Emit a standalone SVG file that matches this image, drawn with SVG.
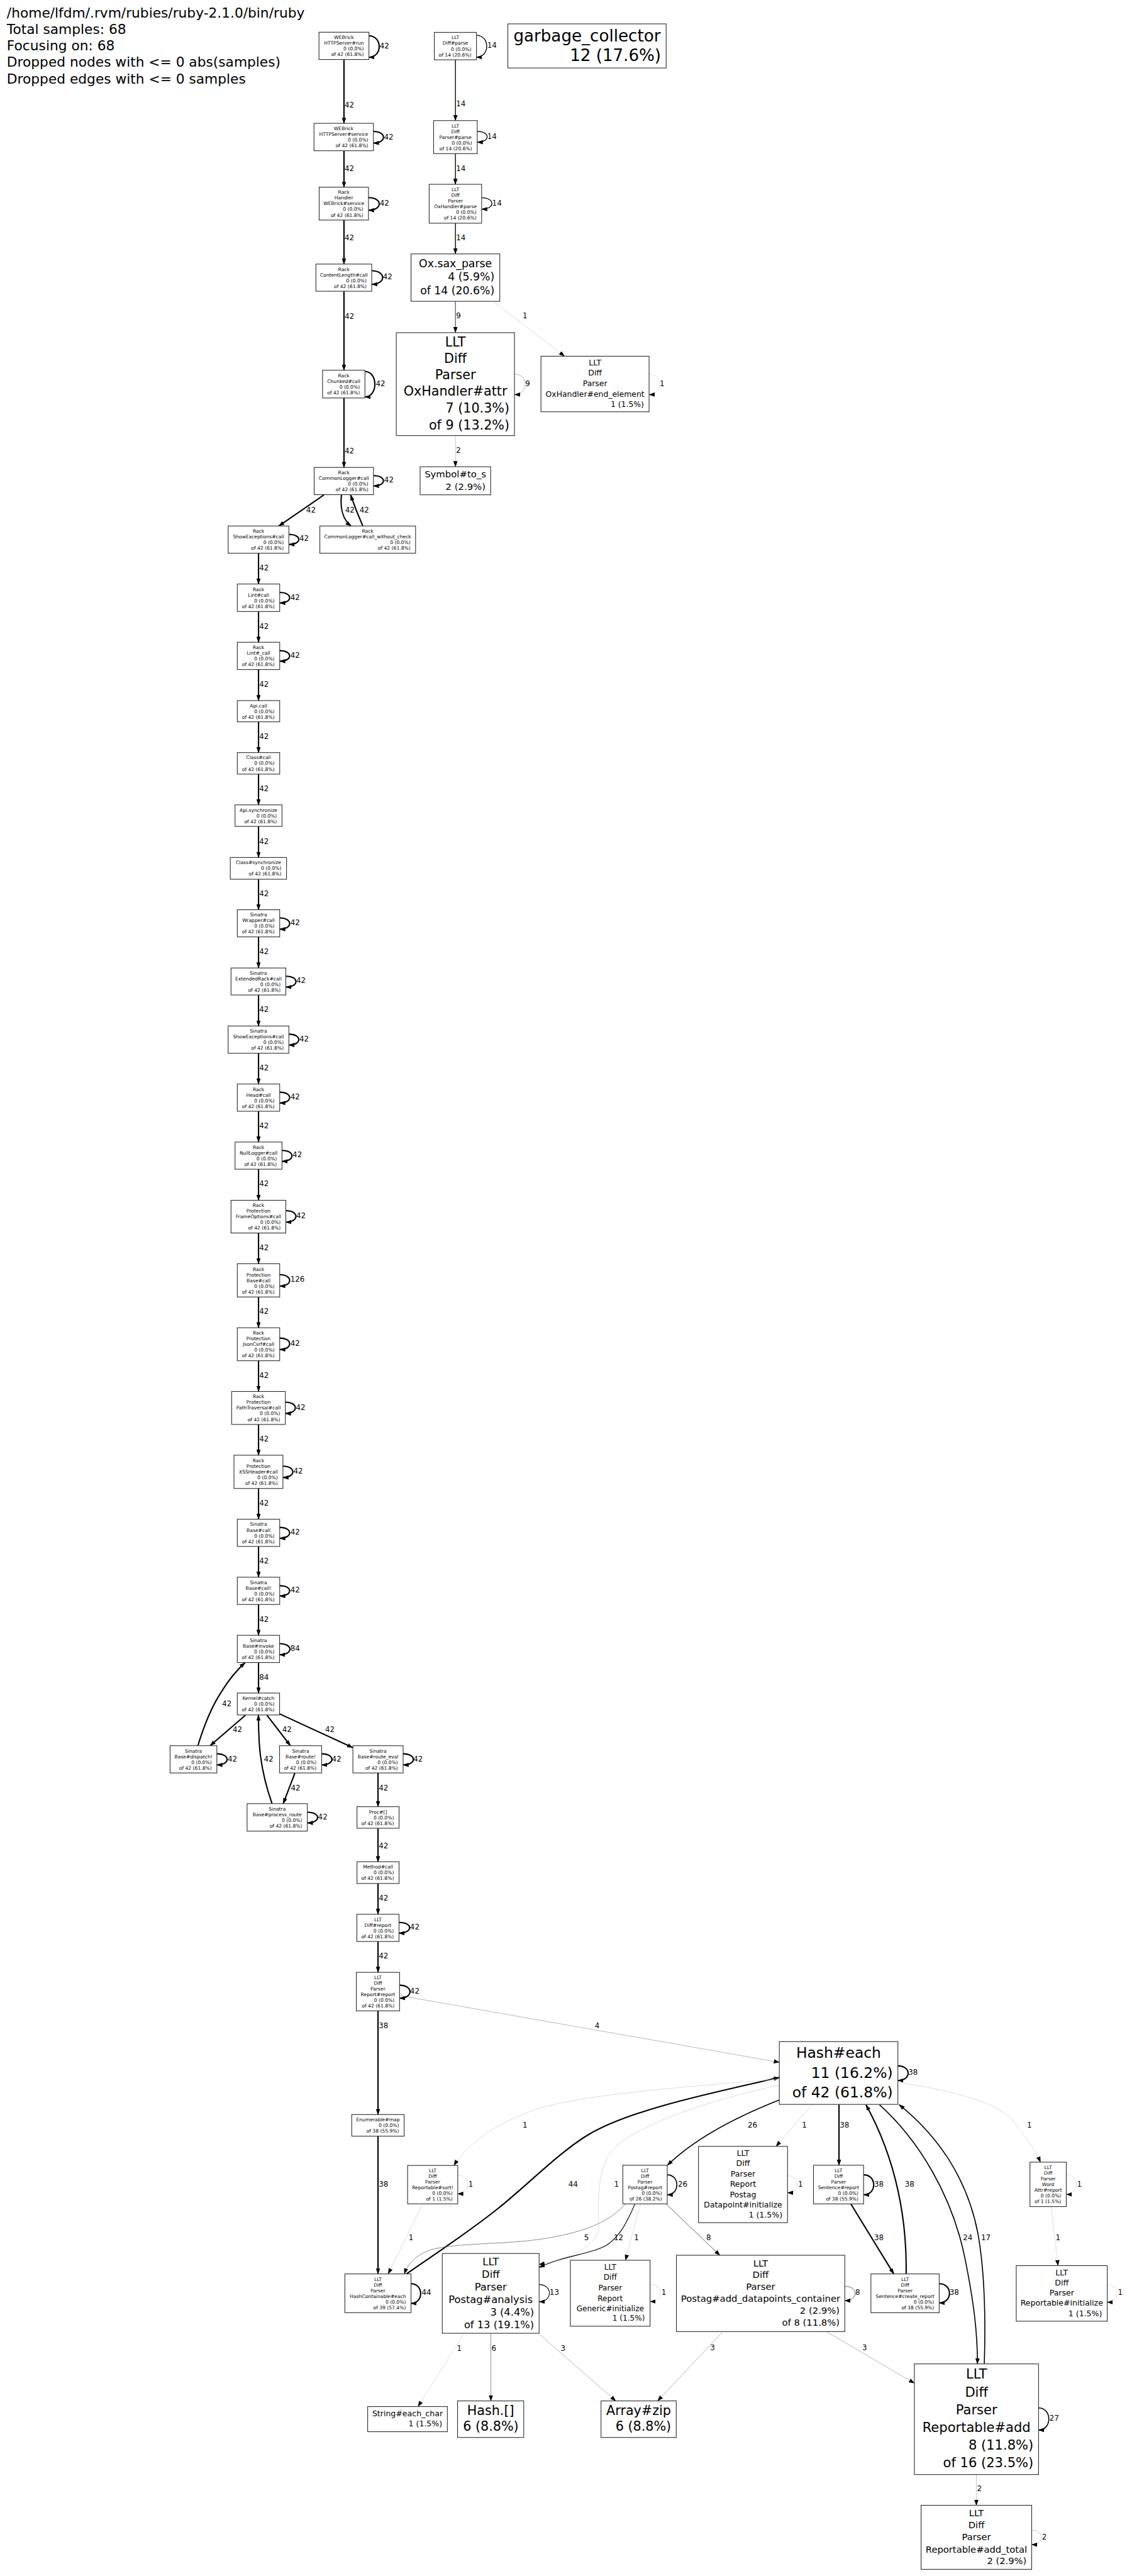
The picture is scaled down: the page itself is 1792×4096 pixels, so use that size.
<svg xmlns="http://www.w3.org/2000/svg" width="1792" height="4096" viewBox="0 0 1792 4096">
<defs>
<style>
text{font-family:"DejaVu Sans",Verdana,sans-serif;fill:#000}
.n rect{fill:#fff;stroke:#2a2a2a;stroke-width:1.6}
.s{font-size:11.2px}
.c{text-anchor:middle}
.r{text-anchor:end}
.h{font-size:32px}
#edges path{fill:none;marker-end:url(#a)}
#edges text{font-size:17.5px}
.w42{stroke:#000;stroke-width:3.1}
.w26{stroke:#000;stroke-width:2.4}
.w14{stroke:#000;stroke-width:2}
.w12{stroke:#000;stroke-width:1.6}
.w9{stroke:#111;stroke-width:1.3}
.w8{stroke:#333;stroke-width:1.1}
.w5{stroke:#555;stroke-width:1}
.w3{stroke:#888;stroke-width:0.9}
.w2{stroke:#a5a5a5;stroke-width:0.9}
.w1{stroke:#c8c8c8;stroke-width:0.9}
.f178{font-size:17.8px}.f183{font-size:18.3px}.f185{font-size:18.5px}.f217{font-size:21.7px}.f218{font-size:21.8px}.f219{font-size:21.9px}
.f24{font-size:24px}.f255{font-size:25.5px}.f305{font-size:30.5px}.f31{font-size:31px}.f345{font-size:34.5px}.f385{font-size:38.5px}
</style>
<marker id="a" markerUnits="userSpaceOnUse" viewBox="0 0 14 10" markerWidth="14" markerHeight="10" refX="13" refY="5" orient="auto"><path d="M0,0L14,5L0,10z" fill="#000"/></marker>
</defs>
<rect width="1792" height="4096" fill="#fff"/>
<g transform="scale(0.679)">
<g id="header" class="h">
<text class="h" x="16" y="40.8">/home/lfdm/.rvm/rubies/ruby-2.1.0/bin/ruby</text>
<text class="h" x="16" y="80.1">Total samples: 68</text>
<text class="h" x="16" y="117.3">Focusing on: 68</text>
<text class="h" x="16" y="156.6">Dropped nodes with &lt;= 0 abs(samples)</text>
<text class="h" x="16" y="195.4">Dropped edges with &lt;= 0 samples</text>
</g>
<g id="edges">
<path class="w42" d="M805.5,139.3V288.8"/><text x="807" y="251.3">42</text>
<path class="w42" d="M805.5,353V438.3"/><text x="807" y="400.7">42</text>
<path class="w42" d="M805.5,515.3V618.4"/><text x="807" y="562.3">42</text>
<path class="w42" d="M805.5,682V867"/><text x="807" y="746.3">42</text>
<path class="w42" d="M805.5,932V1094.6"/><text x="807" y="1061.3">42</text>
<path class="w42" d="M758.6,1159L652.9,1231.8"/><text x="717" y="1199.8">42</text>
<path class="w42" d="M799.6,1159C796,1192 804,1218 822,1231.8"/><text x="808" y="1199.8">42</text>
<path class="w42" d="M849.6,1231.8C840,1210 830,1185 821,1159"/><text x="842" y="1199.8">42</text>
<path class="w42" d="M605.4,1295.5V1367.6"/><text x="607" y="1336.3">42</text>
<path class="w42" d="M605.4,1432V1504"/><text x="607" y="1472.1">42</text>
<path class="w42" d="M605.4,1567.9V1640.6"/><text x="607" y="1608.3">42</text>
<path class="w42" d="M605.4,1690.3V1762.4"/><text x="607" y="1730.3">42</text>
<path class="w42" d="M605.4,1812.8V1884.8"/><text x="607" y="1852.9">42</text>
<path class="w42" d="M605.4,1935.2V2008"/><text x="607" y="1976.3">42</text>
<path class="w42" d="M605.4,2059V2130.4"/><text x="607" y="2098.3">42</text>
<path class="w42" d="M605.4,2194V2266.8"/><text x="607" y="2234.3">42</text>
<path class="w42" d="M605.4,2330V2402.7"/><text x="607" y="2370.1">42</text>
<path class="w42" d="M605.4,2466.5V2538.5"/><text x="607" y="2505.9">42</text>
<path class="w42" d="M605.4,2602.3V2674.4"/><text x="607" y="2642.3">42</text>
<path class="w42" d="M605.4,2738V2810.8"/><text x="607" y="2778.3">42</text>
<path class="w42" d="M605.4,2887.4V2959.4"/><text x="607" y="2928.1">42</text>
<path class="w42" d="M605.4,3037.2V3109.3"/><text x="607" y="3077.3">42</text>
<path class="w42" d="M605.4,3186.5V3258.5"/><text x="607" y="3226.3">42</text>
<path class="w42" d="M605.4,3335.7V3407.8"/><text x="607" y="3375.8">42</text>
<path class="w42" d="M605.4,3485.6V3557.7"/><text x="607" y="3525.1">42</text>
<path class="w42" d="M605.4,3621.4V3693.5"/><text x="607" y="3661.3">42</text>
<path class="w42" d="M605.4,3757.3V3829.5"/><text x="607" y="3797.8">42</text>
<path class="w42" d="M605.4,3893.3V3964.7"/><text x="607" y="3933.3">84</text>
<path class="w42" d="M574.8,4016.5L492,4088"/><text x="545" y="4056.7">42</text>
<path class="w42" d="M463.4,4088C478,4040 495,3998 517,3964C535,3935 553,3912 573.8,3893.8"/><text x="520" y="3995.1">42</text>
<path class="w42" d="M625,4016.5L680,4088"/><text x="661" y="4056.7">42</text>
<path class="w42" d="M654.7,4013.4L826,4092.4"/><text x="761.3" y="4056.7">42</text>
<path class="w42" d="M637,4223.7C620,4175 610,4130 607,4080C605.5,4055 605.2,4035 605.2,4016"/><text x="618" y="4125.1">42</text>
<path class="w42" d="M690.6,4151.8L663.3,4223.7"/><text x="681" y="4192.3">42</text>
<path class="w42" d="M885.2,4151.8V4230.8"/><text x="887" y="4192.3">42</text>
<path class="w42" d="M885.2,4281.3V4359.8"/><text x="887" y="4328.3">42</text>
<path class="w42" d="M885.2,4410.7V4482.8"/><text x="887" y="4450.8">42</text>
<path class="w42" d="M885.2,4546.5V4618.8"/><text x="887" y="4586.8">42</text>
<path class="w42" d="M885.2,4709V4951.8"/><text x="887" y="4748.9">38</text>
<path class="w3" d="M937.5,4673.4L1825,4829.5"/><text x="1393" y="4748.9">4</text>
<path class="w42" d="M885.2,5002.4V5325"/><text x="887" y="5120.9">38</text>
<path class="w42" d="M952,5325C1022,5276 1096,5228 1166,5172C1236,5116 1310,5040 1376,5000C1476,4939.4 1675,4900 1825,4865"/><text x="1331" y="5120.9">44</text>
<path class="w1" d="M1825,4869C1550,4890 1330,4910 1240,4945C1160,4975 1095,5020 1063,5071"/><text x="1224" y="4982.3">1</text>
<path class="w1" d="M1825,4883C1650,4920 1480,4980 1430,5040C1400,5080 1400,5150 1402,5210C1404,5260 1330,5290 1262.5,5303"/><text x="1438" y="5120.9">1</text>
<path class="w26" d="M1825,4917.4C1730,4955 1630,5005 1563,5070.5"/><text x="1751" y="4981.7">26</text>
<path class="w1" d="M1900,4930L1817.4,5026.3"/><text x="1878" y="4981.7">1</text>
<path class="w42" d="M1964.7,4928V5070.5"/><text x="1966.5" y="4981.7">38</text>
<path class="w42" d="M1992.4,5161L2093,5325"/><text x="2047" y="5245.3">38</text>
<path class="w42" d="M2122,5325C2124,5200 2100,5060 2028,4929"/><text x="2119" y="5120.3">38</text>
<path class="w26" d="M2059.5,4928.6C2150,5010 2230,5140 2260,5290C2280,5390 2289,5460 2289,5535.7"/><text x="2255" y="5245.6">24</text>
<path class="w26" d="M2305,5535.7C2308,5440 2308,5330 2290,5230C2265,5100 2195,5000 2105.6,4928.6"/><text x="2297.6" y="5245.6">17</text>
<path class="w1" d="M2102.6,4876C2250,4900 2340,4925 2375,4970C2405,5010 2425,5035 2436.5,5063.3"/><text x="2405" y="4981.8">1</text>
<path class="w1" d="M2461.5,5167.3L2477.6,5305.6"/><text x="2472" y="5245.6">1</text>
<path class="w8" d="M1559.8,5161L1685.7,5281.3"/><text x="1654" y="5245.6">8</text>
<path class="w1" d="M1500,5161L1464.7,5293"/><text x="1485" y="5245.6">1</text>
<path class="w12" d="M1487,5161C1470,5200 1452,5238 1420,5258C1380,5280 1320,5282 1262.5,5310"/><text x="1437.5" y="5246">12</text>
<path class="w5" d="M1465,5161C1430,5200 1380,5222 1300,5238C1200,5258 1080,5250 1010,5268C975,5280 955,5300 947,5325"/><text x="1368" y="5246">5</text>
<path class="w1" d="M989.7,5160.9L909,5325"/><text x="957" y="5246">1</text>
<path class="w1" d="M1086.6,5464L978.9,5635.6"/><text x="1070" y="5504.7">1</text>
<path class="w5" d="M1149.5,5464V5622.4"/><text x="1151" y="5504.7">6</text>
<path class="w3" d="M1260.7,5464L1441.9,5622.4"/><text x="1313" y="5504.7">3</text>
<path class="w3" d="M1693,5460L1540,5622.4"/><text x="1663" y="5503.9">3</text>
<path class="w3" d="M1935,5460L2141.2,5581"/><text x="2019" y="5503.8">3</text>
<path class="w2" d="M2286.4,5794.8V5866.8"/><text x="2288" y="5834.1">2</text>
<path class="w14" d="M1066.5,140V282.4"/><text x="1068" y="249.3">14</text>
<path class="w14" d="M1066.5,359.7V431.6"/><text x="1068" y="400.3">14</text>
<path class="w14" d="M1066.5,522.7V594.6"/><text x="1068" y="561.9">14</text>
<path class="w9" d="M1066.5,705.6V779"/><text x="1068" y="745.3">9</text>
<path class="w1" d="M1155.4,706L1322,834.2"/><text x="1224" y="745.3">1</text>
<path class="w2" d="M1066.5,1020V1093"/><text x="1068" y="1060.9">2</text>
<path class="w42" d="M864,84C896,84 896,134 864,134"/><text x="889" y="113.3">42</text>
<path class="w42" d="M874.4,307.7C905.9,307.7 905.9,335 874.4,335"/><text x="899" y="326.3">42</text>
<path class="w42" d="M862.9,462.8C896.4,462.8 896.4,492.3 862.9,492.3"/><text x="889" y="481.3">42</text>
<path class="w42" d="M870.5,634C904.5,634 904.5,665.8 870.5,665.8"/><text x="896.5" y="654.3">42</text>
<path class="w42" d="M854.6,870C885.6,870 885.6,929.5 854.6,929.5"/><text x="880" y="904.3">42</text>
<path class="w42" d="M874.6,1113.8C905.6,1113.8 905.6,1138 874.6,1138"/><text x="899.6" y="1130.3">42</text>
<path class="w42" d="M676.4,1251.5C707.4,1251.5 707.4,1275 676.4,1275"/><text x="701" y="1267.3">42</text>
<path class="w42" d="M655,1387.4C686,1387.4 686,1412 655,1412"/><text x="680" y="1404.3">42</text>
<path class="w42" d="M655,1523.8C686,1523.8 686,1548.4 655,1548.4"/><text x="680" y="1540.3">42</text>
<path class="w42" d="M655,2149.5C686,2149.5 686,2176 655,2176"/><text x="680" y="2166.3">42</text>
<path class="w42" d="M669.3,2286C700.9,2286 700.9,2311.5 669.3,2311.5"/><text x="693.6" y="2302.3">42</text>
<path class="w42" d="M676.4,2421.8C707.4,2421.8 707.4,2447.3 676.4,2447.3"/><text x="701" y="2438.3">42</text>
<path class="w42" d="M655,2557.6C686,2557.6 686,2583 655,2583"/><text x="680" y="2574.3">42</text>
<path class="w42" d="M660.4,2694C691.4,2694 691.4,2719.6 660.4,2719.6"/><text x="685" y="2710">42</text>
<path class="w42" d="M669.3,2835C700.9,2835 700.9,2861.9 669.3,2861.9"/><text x="693.6" y="2852.9">42</text>
<path class="w42" d="M655,2985C686,2985 686,3011.7 655,3011.7"/><text x="680" y="3002.1">126</text>
<path class="w42" d="M655,3133.5C686,3133.5 686,3160.3 655,3160.3"/><text x="680" y="3152.3">42</text>
<path class="w42" d="M668.2,3283.4C699.2,3283.4 699.2,3310 668.2,3310"/><text x="693" y="3301.3">42</text>
<path class="w42" d="M662.5,3433.3C693.5,3433.3 693.5,3460 662.5,3460"/><text x="687" y="3450.3">42</text>
<path class="w42" d="M655,3576.8C686,3576.8 686,3602.3 655,3602.3"/><text x="680" y="3593.3">42</text>
<path class="w42" d="M655,3713.3C686,3713.3 686,3737.5 655,3737.5"/><text x="680" y="3729.1">42</text>
<path class="w42" d="M654.7,3849C687,3849 687,3875 654.7,3875"/><text x="680" y="3865.3">84</text>
<path class="w42" d="M507.8,4107C539.8,4107 539.8,4133 507.8,4133"/><text x="533" y="4125.1">42</text>
<path class="w42" d="M753.2,4107C785.2,4107 785.2,4133 753.2,4133"/><text x="777" y="4125.1">42</text>
<path class="w42" d="M944,4107C976,4107 976,4133 944,4133"/><text x="968" y="4125.1">42</text>
<path class="w42" d="M719.7,4243.7C751.7,4243.7 751.7,4268.8 719.7,4268.8"/><text x="744.6" y="4260.8">42</text>
<path class="w42" d="M934.4,4501.8C967.4,4501.8 967.4,4527 934.4,4527"/><text x="960" y="4518.8">42</text>
<path class="w42" d="M935.7,4648.9C968.1,4648.9 968.1,4679.3 935.7,4679.3"/><text x="960" y="4668.3">42</text>
<path class="w42" d="M962.5,5348C992.5,5348 992.5,5394 962.5,5394"/><text x="987.5" y="5374.6">44</text>
<path class="w1" d="M1071.9,5093.5C1103.9,5093.5 1103.9,5137.5 1071.9,5137.5"/><text x="1097" y="5120.9">1</text>
<path class="w26" d="M1562.5,5092.9C1592.5,5092.9 1592.5,5139.7 1562.5,5139.7"/><text x="1587.5" y="5120.3">26</text>
<path class="w42" d="M2022.3,5092.9C2053.9,5092.9 2053.9,5139.7 2022.3,5139.7"/><text x="2047" y="5120.3">38</text>
<path class="w1" d="M1844.2,5095C1873.9,5095 1873.9,5135 1844.2,5135"/><text x="1869" y="5120.3">1</text>
<path class="w1" d="M2497,5092.9C2528.6,5092.9 2528.6,5138.8 2497,5138.8"/><text x="2522" y="5120.3">1</text>
<path class="w42" d="M2199.4,5348C2231.4,5348 2231.4,5392.9 2199.4,5392.9"/><text x="2223.5" y="5374.7">38</text>
<path class="w1" d="M2592.9,5350.5C2624.9,5350.5 2624.9,5391.3 2592.9,5391.3"/><text x="2618" y="5374.7">1</text>
<path class="w8" d="M1978.3,5354C2010.8,5354 2010.8,5387.5 1978.3,5387.5"/><text x="2003" y="5374.6">8</text>
<path class="w1" d="M1522.3,5349.5C1555.3,5349.5 1555.3,5389.7 1522.3,5389.7"/><text x="1549" y="5374.6">1</text>
<path class="w12" d="M1262.5,5350C1294.5,5350 1294.5,5390 1262.5,5390"/><text x="1287" y="5374.6">13</text>
<path class="w42" d="M2102.6,4837.8C2134.6,4837.8 2134.6,4872 2102.6,4872"/><text x="2127" y="4858.3">38</text>
<path class="w26" d="M2432.1,5638.8C2464.1,5638.8 2464.1,5690.5 2432.1,5690.5"/><text x="2457.5" y="5669">27</text>
<path class="w2" d="M2416,5925C2446,5925 2446,5959 2416,5959"/><text x="2440" y="5946.3">2</text>
<path class="w3" d="M1204.8,876C1238.4,876 1238.4,924 1204.8,924"/><text x="1230" y="904.3">9</text>
<path class="w1" d="M1520,876C1552.8,876 1552.8,924 1520,924"/><text x="1545" y="904.3">1</text>
<path class="w14" d="M1115.8,82.7C1147.8,82.7 1147.8,134 1115.8,134"/><text x="1141" y="111.9">14</text>
<path class="w14" d="M1117.6,307.6C1148.6,307.6 1148.6,333 1117.6,333"/><text x="1141" y="325.3">14</text>
<path class="w14" d="M1127.9,463C1159.9,463 1159.9,489.8 1127.9,489.8"/><text x="1152.6" y="481.3">14</text>
</g>
<g id="n_webrick_run" class="n"><rect x="747" y="75.5" width="117" height="63.8"/><text class="s c"><tspan x="805.5" y="91.5">WEBrick</tspan><tspan x="805.5" y="104.8">HTTPServer#run</tspan></text><text class="s r"><tspan x="852" y="118.1">0 (0.0%)</tspan><tspan x="852" y="131.4">of 42 (61.8%)</tspan></text></g>
<g id="n_webrick_service" class="n"><rect x="735.3" y="288.8" width="139.1" height="64.2"/><text class="s c"><tspan x="804.9" y="305">WEBrick</tspan><tspan x="804.9" y="318.3">HTTPServer#service</tspan></text><text class="s r"><tspan x="862.4" y="331.6">0 (0.0%)</tspan><tspan x="862.4" y="344.9">of 42 (61.8%)</tspan></text></g>
<g id="n_handler" class="n"><rect x="747.4" y="438.3" width="115.5" height="77"/><text class="s c"><tspan x="805.2" y="454.2">Rack</tspan><tspan x="805.2" y="467.5">Handler</tspan><tspan x="805.2" y="480.8">WEBrick#service</tspan></text><text class="s r"><tspan x="850.9" y="494.1">0 (0.0%)</tspan><tspan x="850.9" y="507.4">of 42 (61.8%)</tspan></text></g>
<g id="n_contentlength" class="n"><rect x="739.8" y="618.4" width="130.7" height="63.6"/><text class="s c"><tspan x="805.2" y="634.3">Rack</tspan><tspan x="805.2" y="647.6">ContentLength#call</tspan></text><text class="s r"><tspan x="858.5" y="660.9">0 (0.0%)</tspan><tspan x="858.5" y="674.2">of 42 (61.8%)</tspan></text></g>
<g id="n_chunked" class="n"><rect x="755.4" y="867" width="99.2" height="65"/><text class="s c"><tspan x="805" y="883.6">Rack</tspan><tspan x="805" y="896.9">Chunked#call</tspan></text><text class="s r"><tspan x="842.6" y="910.2">0 (0.0%)</tspan><tspan x="842.6" y="923.5">of 42 (61.8%)</tspan></text></g>
<g id="n_commonlogger" class="n"><rect x="735.7" y="1094.6" width="138.9" height="63.8"/><text class="s c"><tspan x="805.2" y="1110.6">Rack</tspan><tspan x="805.2" y="1123.9">CommonLogger#call</tspan></text><text class="s r"><tspan x="862.6" y="1137.2">0 (0.0%)</tspan><tspan x="862.6" y="1150.5">of 42 (61.8%)</tspan></text></g>
<g id="n_cl_without_check" class="n"><rect x="749" y="1231.8" width="224.2" height="63.7"/><text class="s c"><tspan x="861.1" y="1247.7">Rack</tspan><tspan x="861.1" y="1261">CommonLogger#call_without_check</tspan></text><text class="s r"><tspan x="961.2" y="1274.3">0 (0.0%)</tspan><tspan x="961.2" y="1287.6">of 42 (61.8%)</tspan></text></g>
<g id="n_showexceptions" class="n"><rect x="534.3" y="1231.8" width="142.1" height="63.7"/><text class="s c"><tspan x="605.4" y="1247.7">Rack</tspan><tspan x="605.4" y="1261">ShowExceptions#call</tspan></text><text class="s r"><tspan x="664.4" y="1274.3">0 (0.0%)</tspan><tspan x="664.4" y="1287.6">of 42 (61.8%)</tspan></text></g>
<g id="n_lint" class="n"><rect x="555.7" y="1367.6" width="99.3" height="64.4"/><text class="s c"><tspan x="605.4" y="1383.9">Rack</tspan><tspan x="605.4" y="1397.2">Lint#call</tspan></text><text class="s r"><tspan x="643" y="1410.5">0 (0.0%)</tspan><tspan x="643" y="1423.8">of 42 (61.8%)</tspan></text></g>
<g id="n_lint_call" class="n"><rect x="555.7" y="1504" width="99.3" height="63.9"/><text class="s c"><tspan x="605.4" y="1520">Rack</tspan><tspan x="605.4" y="1533.3">Lint#_call</tspan></text><text class="s r"><tspan x="643" y="1546.6">0 (0.0%)</tspan><tspan x="643" y="1559.9">of 42 (61.8%)</tspan></text></g>
<g id="n_api_call" class="n"><rect x="555.7" y="1640.6" width="99.3" height="49.7"/><text class="s c"><tspan x="605.4" y="1656.2">Api.call</tspan></text><text class="s r"><tspan x="643" y="1669.5">0 (0.0%)</tspan><tspan x="643" y="1682.8">of 42 (61.8%)</tspan></text></g>
<g id="n_class_call" class="n"><rect x="555.7" y="1762.4" width="99.3" height="50.4"/><text class="s c"><tspan x="605.4" y="1778.3">Class#call</tspan></text><text class="s r"><tspan x="643" y="1791.6">0 (0.0%)</tspan><tspan x="643" y="1804.9">of 42 (61.8%)</tspan></text></g>
<g id="n_api_sync" class="n"><rect x="550.4" y="1884.8" width="110" height="50.4"/><text class="s c"><tspan x="605.4" y="1900.7">Api.synchronize</tspan></text><text class="s r"><tspan x="648.4" y="1914">0 (0.0%)</tspan><tspan x="648.4" y="1927.3">of 42 (61.8%)</tspan></text></g>
<g id="n_class_sync" class="n"><rect x="539.3" y="2008" width="131.7" height="51"/><text class="s c"><tspan x="605.2" y="2024.2">Class#synchronize</tspan></text><text class="s r"><tspan x="659" y="2037.5">0 (0.0%)</tspan><tspan x="659" y="2050.8">of 42 (61.8%)</tspan></text></g>
<g id="n_wrapper" class="n"><rect x="555.7" y="2130.4" width="99.3" height="63.6"/><text class="s c"><tspan x="605.4" y="2146.3">Sinatra</tspan><tspan x="605.4" y="2159.6">Wrapper#call</tspan></text><text class="s r"><tspan x="643" y="2172.9">0 (0.0%)</tspan><tspan x="643" y="2186.2">of 42 (61.8%)</tspan></text></g>
<g id="n_extendedrack" class="n"><rect x="541" y="2266.8" width="128.3" height="63.2"/><text class="s c"><tspan x="605.2" y="2282.5">Sinatra</tspan><tspan x="605.2" y="2295.8">ExtendedRack#call</tspan></text><text class="s r"><tspan x="657.3" y="2309.1">0 (0.0%)</tspan><tspan x="657.3" y="2322.4">of 42 (61.8%)</tspan></text></g>
<g id="n_sin_showexceptions" class="n"><rect x="534.3" y="2402.7" width="142.1" height="63.8"/><text class="s c"><tspan x="605.4" y="2418.7">Sinatra</tspan><tspan x="605.4" y="2432">ShowExceptions#call</tspan></text><text class="s r"><tspan x="664.4" y="2445.3">0 (0.0%)</tspan><tspan x="664.4" y="2458.6">of 42 (61.8%)</tspan></text></g>
<g id="n_head" class="n"><rect x="555.7" y="2538.5" width="99.3" height="63.8"/><text class="s c"><tspan x="605.4" y="2554.5">Rack</tspan><tspan x="605.4" y="2567.8">Head#call</tspan></text><text class="s r"><tspan x="643" y="2581.1">0 (0.0%)</tspan><tspan x="643" y="2594.4">of 42 (61.8%)</tspan></text></g>
<g id="n_nulllogger" class="n"><rect x="550.4" y="2674.4" width="110" height="63.6"/><text class="s c"><tspan x="605.4" y="2690.3">Rack</tspan><tspan x="605.4" y="2703.6">NullLogger#call</tspan></text><text class="s r"><tspan x="648.4" y="2716.9">0 (0.0%)</tspan><tspan x="648.4" y="2730.2">of 42 (61.8%)</tspan></text></g>
<g id="n_frameoptions" class="n"><rect x="541" y="2810.8" width="128.3" height="76.6"/><text class="s c"><tspan x="605.2" y="2826.5">Rack</tspan><tspan x="605.2" y="2839.8">Protection</tspan><tspan x="605.2" y="2853.1">FrameOptions#call</tspan></text><text class="s r"><tspan x="657.3" y="2866.4">0 (0.0%)</tspan><tspan x="657.3" y="2879.7">of 42 (61.8%)</tspan></text></g>
<g id="n_prot_base" class="n"><rect x="555.7" y="2959.4" width="99.3" height="77.8"/><text class="s c"><tspan x="605.4" y="2975.7">Rack</tspan><tspan x="605.4" y="2989">Protection</tspan><tspan x="605.4" y="3002.3">Base#call</tspan></text><text class="s r"><tspan x="643" y="3015.6">0 (0.0%)</tspan><tspan x="643" y="3028.9">of 42 (61.8%)</tspan></text></g>
<g id="n_jsoncsrf" class="n"><rect x="555.7" y="3109.3" width="99.3" height="77.2"/><text class="s c"><tspan x="605.4" y="3125.3">Rack</tspan><tspan x="605.4" y="3138.6">Protection</tspan><tspan x="605.4" y="3151.9">JsonCsrf#call</tspan></text><text class="s r"><tspan x="643" y="3165.2">0 (0.0%)</tspan><tspan x="643" y="3178.5">of 42 (61.8%)</tspan></text></g>
<g id="n_pathtraversal" class="n"><rect x="542.5" y="3258.5" width="125.7" height="77.2"/><text class="s c"><tspan x="605.4" y="3274.5">Rack</tspan><tspan x="605.4" y="3287.8">Protection</tspan><tspan x="605.4" y="3301.1">PathTraversal#call</tspan></text><text class="s r"><tspan x="656.2" y="3314.4">0 (0.0%)</tspan><tspan x="656.2" y="3327.7">of 42 (61.8%)</tspan></text></g>
<g id="n_xssheader" class="n"><rect x="547.9" y="3407.8" width="114.6" height="77.8"/><text class="s c"><tspan x="605.2" y="3424.1">Rack</tspan><tspan x="605.2" y="3437.4">Protection</tspan><tspan x="605.2" y="3450.7">XSSHeader#call</tspan></text><text class="s r"><tspan x="650.5" y="3464">0 (0.0%)</tspan><tspan x="650.5" y="3477.3">of 42 (61.8%)</tspan></text></g>
<g id="n_sin_base_call" class="n"><rect x="555.7" y="3557.7" width="99.3" height="63.7"/><text class="s c"><tspan x="605.4" y="3573.6">Sinatra</tspan><tspan x="605.4" y="3586.9">Base#call</tspan></text><text class="s r"><tspan x="643" y="3600.2">0 (0.0%)</tspan><tspan x="643" y="3613.5">of 42 (61.8%)</tspan></text></g>
<g id="n_sin_base_callbang" class="n"><rect x="555.7" y="3693.5" width="99.3" height="63.8"/><text class="s c"><tspan x="605.4" y="3709.5">Sinatra</tspan><tspan x="605.4" y="3722.8">Base#call!</tspan></text><text class="s r"><tspan x="643" y="3736.1">0 (0.0%)</tspan><tspan x="643" y="3749.4">of 42 (61.8%)</tspan></text></g>
<g id="n_invoke" class="n"><rect x="555.7" y="3829.5" width="99" height="63.8"/><text class="s c"><tspan x="605.2" y="3845.5">Sinatra</tspan><tspan x="605.2" y="3858.8">Base#invoke</tspan></text><text class="s r"><tspan x="642.7" y="3872.1">0 (0.0%)</tspan><tspan x="642.7" y="3885.4">of 42 (61.8%)</tspan></text></g>
<g id="n_catch" class="n"><rect x="555.7" y="3964.7" width="99" height="51.3"/><text class="s c"><tspan x="605.2" y="3981.1">Kernel#catch</tspan></text><text class="s r"><tspan x="642.7" y="3994.4">0 (0.0%)</tspan><tspan x="642.7" y="4007.7">of 42 (61.8%)</tspan></text></g>
<g id="n_dispatch" class="n"><rect x="398.3" y="4088" width="109.5" height="63.8"/><text class="s c"><tspan x="453.1" y="4104">Sinatra</tspan><tspan x="453.1" y="4117.3">Base#dispatch!</tspan></text><text class="s r"><tspan x="495.8" y="4130.6">0 (0.0%)</tspan><tspan x="495.8" y="4143.9">of 42 (61.8%)</tspan></text></g>
<g id="n_route" class="n"><rect x="654.7" y="4088" width="98.5" height="63.8"/><text class="s c"><tspan x="704" y="4104">Sinatra</tspan><tspan x="704" y="4117.3">Base#route!</tspan></text><text class="s r"><tspan x="741.2" y="4130.6">0 (0.0%)</tspan><tspan x="741.2" y="4143.9">of 42 (61.8%)</tspan></text></g>
<g id="n_route_eval" class="n"><rect x="826.4" y="4088" width="117.6" height="63.8"/><text class="s c"><tspan x="885.2" y="4104">Sinatra</tspan><tspan x="885.2" y="4117.3">Base#route_eval</tspan></text><text class="s r"><tspan x="932" y="4130.6">0 (0.0%)</tspan><tspan x="932" y="4143.9">of 42 (61.8%)</tspan></text></g>
<g id="n_process_route" class="n"><rect x="578.6" y="4223.7" width="141.1" height="64.3"/><text class="s c"><tspan x="649.2" y="4239.9">Sinatra</tspan><tspan x="649.2" y="4253.2">Base#process_route</tspan></text><text class="s r"><tspan x="707.7" y="4266.5">0 (0.0%)</tspan><tspan x="707.7" y="4279.8">of 42 (61.8%)</tspan></text></g>
<g id="n_proc" class="n"><rect x="836" y="4230.8" width="98.5" height="50.5"/><text class="s c"><tspan x="885.3" y="4246.8">Proc#[]</tspan></text><text class="s r"><tspan x="922.5" y="4260.1">0 (0.0%)</tspan><tspan x="922.5" y="4273.4">of 42 (61.8%)</tspan></text></g>
<g id="n_method_call" class="n"><rect x="836" y="4359.8" width="98.5" height="50.9"/><text class="s c"><tspan x="885.3" y="4376">Method#call</tspan></text><text class="s r"><tspan x="922.5" y="4389.3">0 (0.0%)</tspan><tspan x="922.5" y="4402.6">of 42 (61.8%)</tspan></text></g>
<g id="n_diff_report" class="n"><rect x="835.7" y="4482.8" width="98.7" height="63.7"/><text class="s c"><tspan x="885.1" y="4498.7">LLT</tspan><tspan x="885.1" y="4512">Diff#report</tspan></text><text class="s r"><tspan x="922.4" y="4525.3">0 (0.0%)</tspan><tspan x="922.4" y="4538.6">of 42 (61.8%)</tspan></text></g>
<g id="n_report_report" class="n"><rect x="834.4" y="4618.8" width="101.3" height="90.2"/><text class="s c"><tspan x="885.1" y="4634.7">LLT</tspan><tspan x="885.1" y="4648">Diff</tspan><tspan x="885.1" y="4661.3">Parser</tspan><tspan x="885.1" y="4674.6">Report#report</tspan></text><text class="s r"><tspan x="923.7" y="4687.9">0 (0.0%)</tspan><tspan x="923.7" y="4701.2">of 42 (61.8%)</tspan></text></g>
<g id="n_enum_map" class="n"><rect x="823.7" y="4951.8" width="122.7" height="50.6"/><text class="s c"><tspan x="885.1" y="4967.8">Enumerable#map</tspan></text><text class="s r"><tspan x="934.4" y="4981.1">0 (0.0%)</tspan><tspan x="934.4" y="4994.4">of 38 (55.9%)</tspan></text></g>
<g id="n_hashcontainable" class="n"><rect x="807.6" y="5325" width="154.9" height="90.7"/><text class="s c"><tspan x="885.1" y="5341.1">LLT</tspan><tspan x="885.1" y="5354.4">Diff</tspan><tspan x="885.1" y="5367.7">Parser</tspan><tspan x="885.1" y="5381">HashContainable#each</tspan></text><text class="s r"><tspan x="950.5" y="5394.3">0 (0.0%)</tspan><tspan x="950.5" y="5407.6">of 39 (57.4%)</tspan></text></g>
<g id="n_sort" class="n"><rect x="954.5" y="5071" width="117.4" height="89.9"/><text class="s c"><tspan x="1013.2" y="5086.7">LLT</tspan><tspan x="1013.2" y="5100">Diff</tspan><tspan x="1013.2" y="5113.3">Parser</tspan><tspan x="1013.2" y="5126.6">Reportable#sort!</tspan></text><text class="s r"><tspan x="1059.9" y="5139.9">0 (0.0%)</tspan><tspan x="1059.9" y="5153.2">of 1 (1.5%)</tspan></text></g>
<g id="n_postag_report" class="n"><rect x="1458.5" y="5070.5" width="104" height="90.5"/><text class="s c"><tspan x="1510.5" y="5086.5">LLT</tspan><tspan x="1510.5" y="5099.8">Diff</tspan><tspan x="1510.5" y="5113.1">Parser</tspan><tspan x="1510.5" y="5126.4">Postag#report</tspan></text><text class="s r"><tspan x="1550.5" y="5139.7">0 (0.0%)</tspan><tspan x="1550.5" y="5153">of 26 (38.2%)</tspan></text></g>
<g id="n_sentence_report" class="n"><rect x="1905" y="5070.5" width="117.3" height="90.5"/><text class="s c"><tspan x="1963.7" y="5086.5">LLT</tspan><tspan x="1963.7" y="5099.8">Diff</tspan><tspan x="1963.7" y="5113.1">Parser</tspan><tspan x="1963.7" y="5126.4">Sentence#report</tspan></text><text class="s r"><tspan x="2010.3" y="5139.7">0 (0.0%)</tspan><tspan x="2010.3" y="5153">of 38 (55.9%)</tspan></text></g>
<g id="n_word_attr" class="n"><rect x="2411.9" y="5063.3" width="85.1" height="104"/><text class="s c"><tspan x="2454.5" y="5079.4">LLT</tspan><tspan x="2454.5" y="5092.7">Diff</tspan><tspan x="2454.5" y="5106">Parser</tspan><tspan x="2454.5" y="5119.3">Word</tspan><tspan x="2454.5" y="5132.6">Attr#report</tspan></text><text class="s r"><tspan x="2485" y="5145.9">0 (0.0%)</tspan><tspan x="2485" y="5159.2">of 1 (1.5%)</tspan></text></g>
<g id="n_create_report" class="n"><rect x="2039.5" y="5325" width="159.9" height="90.8"/><text class="s c"><tspan x="2119.5" y="5341.2">LLT</tspan><tspan x="2119.5" y="5354.5">Diff</tspan><tspan x="2119.5" y="5367.8">Parser</tspan><tspan x="2119.5" y="5381.1">Sentence#create_report</tspan></text><text class="s r"><tspan x="2187.4" y="5394.4">0 (0.0%)</tspan><tspan x="2187.4" y="5407.7">of 38 (55.9%)</tspan></text></g>
<g id="n_diff_parse" class="n"><rect x="1017.1" y="75.8" width="98.7" height="64.2"/><text class="s c"><tspan x="1066.5" y="92">LLT</tspan><tspan x="1066.5" y="105.3">Diff#parse</tspan></text><text class="s r"><tspan x="1103.8" y="118.6">0 (0.0%)</tspan><tspan x="1103.8" y="131.9">of 14 (20.6%)</tspan></text></g>
<g id="n_parser_parse" class="n"><rect x="1015.4" y="282.4" width="102.2" height="77.3"/><text class="s c"><tspan x="1066.5" y="298.5">LLT</tspan><tspan x="1066.5" y="311.8">Diff</tspan><tspan x="1066.5" y="325.1">Parser#parse</tspan></text><text class="s r"><tspan x="1105.6" y="338.4">0 (0.0%)</tspan><tspan x="1105.6" y="351.7">of 14 (20.6%)</tspan></text></g>
<g id="n_oxhandler_parse" class="n"><rect x="1005" y="431.6" width="122.9" height="91.1"/><text class="s c"><tspan x="1066.5" y="447.9">LLT</tspan><tspan x="1066.5" y="461.2">Diff</tspan><tspan x="1066.5" y="474.5">Parser</tspan><tspan x="1066.5" y="487.8">OxHandler#parse</tspan></text><text class="s r"><tspan x="1115.9" y="501.1">0 (0.0%)</tspan><tspan x="1115.9" y="514.4">of 14 (20.6%)</tspan></text></g>
<g id="n_gc" class="n"><rect x="1189.3" y="55.9" width="370.7" height="103.3"/><text class="f385 c" x="1374.7" y="96.5">garbage_collector</text><text class="f385 r" x="1548" y="142.5">12 (17.6%)</text></g>
<g id="n_ox_sax_parse" class="n"><rect x="962.6" y="594.6" width="207.8" height="111"/><text class="f255 c" x="1066.5" y="625.2">Ox.sax_parse</text><text class="f255 r"><tspan x="1158" y="657.2">4 (5.9%)</tspan><tspan x="1158" y="689.2">of 14 (20.6%)</tspan></text></g>
<g id="n_oxhandler_attr" class="n"><rect x="928" y="779" width="276.8" height="241"/><text class="f305 c"><tspan x="1066.4" y="812">LLT</tspan><tspan x="1066.4" y="850.5">Diff</tspan><tspan x="1066.4" y="888.8">Parser</tspan><tspan x="1066.4" y="927">OxHandler#attr</tspan></text><text class="f305 r"><tspan x="1193" y="966">7 (10.3%)</tspan><tspan x="1193" y="1006">of 9 (13.2%)</tspan></text></g>
<g id="n_oxhandler_end_element" class="n"><rect x="1266.8" y="834.2" width="253.2" height="130.1"/><text class="f183 c"><tspan x="1393.4" y="856.1">LLT</tspan><tspan x="1393.4" y="879.6">Diff</tspan><tspan x="1393.4" y="904.3">Parser</tspan><tspan x="1393.4" y="928.6">OxHandler#end_element</tspan></text><text class="f183 r" x="1508" y="953.3">1 (1.5%)</text></g>
<g id="n_symbol_to_s" class="n"><rect x="983.8" y="1093" width="165.2" height="65.7"/><text class="f219 c" x="1066.4" y="1118.4">Symbol#to_s</text><text class="f219 r" x="1137" y="1147.4">2 (2.9%)</text></g>
<g id="n_hash_each" class="n"><rect x="1825" y="4781" width="277.6" height="147"/><text class="f345 c" x="1963.8" y="4819.4">Hash#each</text><text class="f345 r"><tspan x="2090.6" y="4865.4">11 (16.2%)</tspan><tspan x="2090.6" y="4911.4">of 42 (61.8%)</tspan></text></g>
<g id="n_datapoint_init" class="n"><rect x="1635.7" y="5026.3" width="208.5" height="178.7"/><text class="f185 c"><tspan x="1740" y="5049.1">LLT</tspan><tspan x="1740" y="5072.7">Diff</tspan><tspan x="1740" y="5096.7">Parser</tspan><tspan x="1740" y="5120.7">Report</tspan><tspan x="1740" y="5145.5">Postag</tspan><tspan x="1740" y="5169.7">Datapoint#initialize</tspan></text><text class="f185 r" x="1832.2" y="5193.3">1 (1.5%)</text></g>
<g id="n_generic_init" class="n"><rect x="1335.7" y="5293" width="186.6" height="154.5"/><text class="f178 c"><tspan x="1429" y="5315.4">LLT</tspan><tspan x="1429" y="5339.1">Diff</tspan><tspan x="1429" y="5364">Parser</tspan><tspan x="1429" y="5388.1">Report</tspan><tspan x="1429" y="5411.8">Generic#initialize</tspan></text><text class="f178 r" x="1510.3" y="5434.8">1 (1.5%)</text></g>
<g id="n_add_datapoints_container" class="n"><rect x="1584" y="5281.3" width="394.3" height="178.7"/><text class="f218 c"><tspan x="1781.2" y="5307.4">LLT</tspan><tspan x="1781.2" y="5334.8">Diff</tspan><tspan x="1781.2" y="5362.8">Parser</tspan><tspan x="1781.2" y="5390.8">Postag#add_datapoints_container</tspan></text><text class="f218 r"><tspan x="1966.3" y="5418.5">2 (2.9%)</tspan><tspan x="1966.3" y="5446.6">of 8 (11.8%)</tspan></text></g>
<g id="n_postag_analysis" class="n"><rect x="1035.7" y="5277.2" width="226.8" height="186.8"/><text class="f24 c"><tspan x="1149.1" y="5304.9">LLT</tspan><tspan x="1149.1" y="5333.6">Diff</tspan><tspan x="1149.1" y="5364.3">Parser</tspan><tspan x="1149.1" y="5393">Postag#analysis</tspan></text><text class="f24 r"><tspan x="1250.5" y="5422.8">3 (4.4%)</tspan><tspan x="1250.5" y="5452.3">of 13 (19.1%)</tspan></text></g>
<g id="n_reportable_init" class="n"><rect x="2379.8" y="5305.6" width="213.1" height="130.1"/><text class="f185 c"><tspan x="2486.4" y="5328.1">LLT</tspan><tspan x="2486.4" y="5352.1">Diff</tspan><tspan x="2486.4" y="5376.1">Parser</tspan><tspan x="2486.4" y="5399.6">Reportable#initialize</tspan></text><text class="f185 r" x="2580.9" y="5424">1 (1.5%)</text></g>
<g id="n_each_char" class="n"><rect x="861" y="5635.6" width="186.6" height="58.9"/><text class="f185 c" x="954.3" y="5658.4">String#each_char</text><text class="f185 r" x="1035.6" y="5682.6">1 (1.5%)</text></g>
<g id="n_hash_brackets" class="n"><rect x="1071.5" y="5622.4" width="155" height="85.6"/><text class="f305 c" x="1149" y="5655">Hash.[]</text><text class="f305 r" x="1214.5" y="5691.6">6 (8.8%)</text></g>
<g id="n_array_zip" class="n"><rect x="1407.5" y="5622.4" width="176.1" height="85.6"/><text class="f305 c" x="1495.6" y="5655">Array#zip</text><text class="f305 r" x="1571.6" y="5691.6">6 (8.8%)</text></g>
<g id="n_reportable_add" class="n"><rect x="2141.2" y="5535.7" width="290.9" height="259.1"/><text class="f31 c"><tspan x="2286.7" y="5570.2">LLT</tspan><tspan x="2286.7" y="5612.2">Diff</tspan><tspan x="2286.7" y="5654">Parser</tspan><tspan x="2286.7" y="5694.9">Reportable#add</tspan></text><text class="f31 r"><tspan x="2420.1" y="5736.7">8 (11.8%)</tspan><tspan x="2420.1" y="5777.2">of 16 (23.5%)</tspan></text></g>
<g id="n_reportable_add_total" class="n"><rect x="2157" y="5866.8" width="259" height="150"/><text class="f217 c"><tspan x="2286.5" y="5892.5">LLT</tspan><tspan x="2286.5" y="5921.2">Diff</tspan><tspan x="2286.5" y="5949">Parser</tspan><tspan x="2286.5" y="5977.8">Reportable#add_total</tspan></text><text class="f217 r" x="2404" y="6004.8">2 (2.9%)</text></g>
</g>
</svg>
